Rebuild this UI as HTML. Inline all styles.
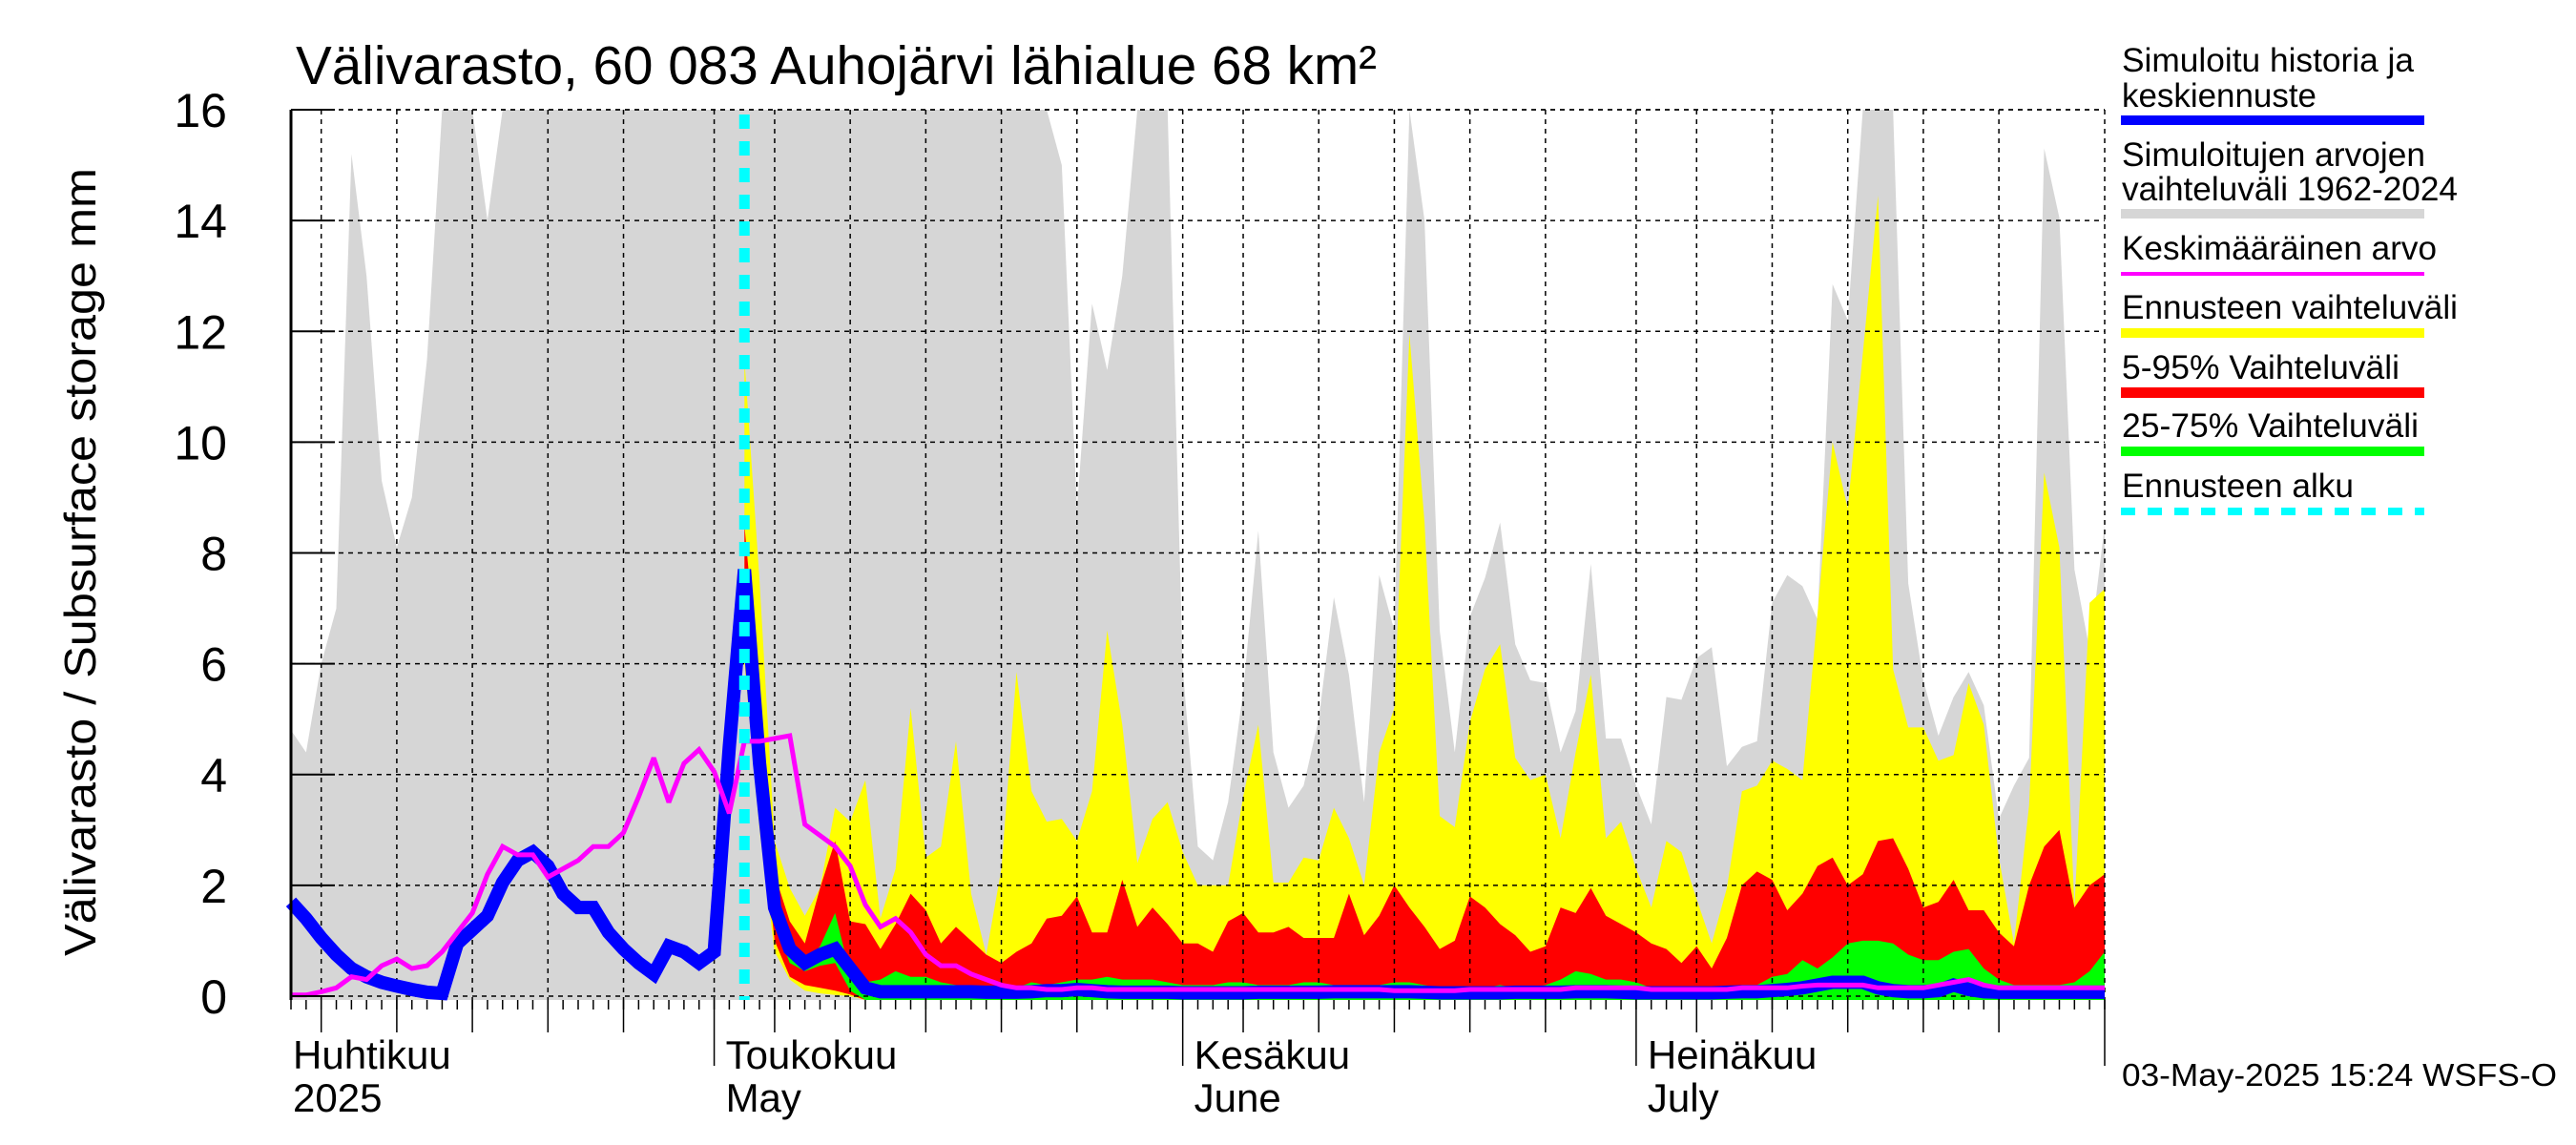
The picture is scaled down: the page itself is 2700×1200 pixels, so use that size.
<!DOCTYPE html>
<html><head><meta charset="utf-8"><style>
html,body{margin:0;padding:0;background:#fff;}
svg{display:block;font-family:"Liberation Sans",sans-serif;}
</style></head><body>
<svg id="chart" width="2700" height="1200" viewBox="0 0 2700 1200" xmlns="http://www.w3.org/2000/svg">
<rect x="0" y="0" width="2700" height="1200" fill="#fff"/>
<g id="plot"></g>
<g id="axes"></g>
<text x="310" y="88" font-size="57" textLength="1133" lengthAdjust="spacingAndGlyphs">Välivarasto, 60 083 Auhojärvi lähialue 68 km²</text>
<text transform="translate(100,589) rotate(-90)" text-anchor="middle" font-size="46" textLength="826" lengthAdjust="spacingAndGlyphs">Välivarasto / Subsurface storage  mm</text>
<text x="2224" y="1138" font-size="33" textLength="456" lengthAdjust="spacingAndGlyphs">03-May-2025 15:24 WSFS-O</text>
<g font-size="35">
 <g>
  <text x="2224" y="75" textLength="306" lengthAdjust="spacingAndGlyphs">Simuloitu historia ja</text><text x="2224" y="112" textLength="204" lengthAdjust="spacingAndGlyphs">keskiennuste</text>
  <rect x="2223" y="121" width="318" height="10" fill="#0000ff"/></g>
 <g>
  <text x="2224" y="174" textLength="318" lengthAdjust="spacingAndGlyphs">Simuloitujen arvojen</text><text x="2224" y="210" textLength="352" lengthAdjust="spacingAndGlyphs">vaihteluväli 1962-2024</text>
  <rect x="2223" y="219" width="318" height="10" fill="#d6d6d6"/></g>
 <g>
  <text x="2224" y="272" textLength="330" lengthAdjust="spacingAndGlyphs">Keskimääräinen arvo</text>
  <rect x="2223" y="285" width="318" height="4" fill="#ff00ff"/></g>
 <g>
  <text x="2224" y="334" textLength="352" lengthAdjust="spacingAndGlyphs">Ennusteen vaihteluväli</text>
  <rect x="2223" y="344" width="318" height="10" fill="#ffff00"/></g>
 <g>
  <text x="2224" y="397" textLength="291" lengthAdjust="spacingAndGlyphs">5-95% Vaihteluväli</text>
  <rect x="2223" y="406" width="318" height="11" fill="#ff0000"/></g>
 <g>
  <text x="2224" y="458" textLength="311" lengthAdjust="spacingAndGlyphs">25-75% Vaihteluväli</text>
  <rect x="2223" y="468" width="318" height="10" fill="#00ff00"/></g>
 <g>
  <text x="2224" y="521" textLength="243" lengthAdjust="spacingAndGlyphs">Ennusteen alku</text>
  <line x1="2223" y1="536" x2="2541" y2="536" stroke="#00ffff" stroke-width="8" stroke-dasharray="15 13"/></g>
</g>
</svg>
<script>
// day index i = 0 -> 3 April 2025
const greyMax = [4.8,4.4,6,7,15.2,13,9.3,8.1,9,11.5,16,16,16,14,16,16,16,16,16,16,16,16,16,16,16,16,16,16,16,16,16,16,16,16,16,16,16,16,16,16,16,16,16,16,16,16,16,16,16,16,16,15,8.8,12.5,11.3,13,16,16,16,5.9,2.7,2.45,3.5,5.5,8.4,4.4,3.4,3.8,5.0,7.2,5.8,3.5,7.6,6.6,16,14,6.6,4.4,6.85,7.55,8.55,6.35,5.7,5.65,4.4,5.15,7.8,4.65,4.65,3.8,3.1,5.4,5.35,6.1,6.3,4.15,4.5,4.6,7.1,7.6,7.4,6.8,12.85,12.2,16,16,16,7.45,5.7,4.7,5.4,5.85,5.25,3.2,3.8,4.3,15.3,14.05,7.7,6.25,8.5];
const forecastStart = 30;
const yellowMax = [11.5,7.5,2.8,1.95,1.45,1.95,3.4,3.15,3.9,1.4,2.3,5.2,2.5,2.7,4.6,1.85,0.75,2.3,5.85,3.7,3.15,3.2,2.8,3.7,6.6,4.9,2.4,3.2,3.5,2.6,2.0,2.0,2.0,3.6,4.9,2.05,2.05,2.5,2.45,3.4,2.85,2.0,4.4,5.2,11.95,8.55,3.25,3.05,4.95,5.9,6.35,4.3,3.9,4.0,2.85,4.4,5.8,2.85,3.15,2.3,1.6,2.8,2.6,1.75,0.95,1.95,3.7,3.8,4.25,4.1,3.9,6.9,10.0,8.8,11.6,14.45,5.9,4.85,4.85,4.25,4.35,5.65,4.9,2.5,0.95,3.45,9.45,8.1,1.6,7.1,7.35];
const yellowMin = [6.0,3.0,0.8,0.3,0.1,0.05,0.02,0];
const red95 = [8.5,5.5,2.2,1.35,0.95,1.95,2.8,1.35,1.3,0.85,1.3,1.85,1.55,0.95,1.25,1.0,0.75,0.6,0.8,0.95,1.4,1.45,1.8,1.15,1.15,2.1,1.25,1.6,1.3,0.95,0.95,0.8,1.35,1.5,1.15,1.15,1.25,1.05,1.05,1.05,1.85,1.1,1.45,2.0,1.6,1.25,0.85,1.0,1.8,1.6,1.3,1.1,0.8,0.9,1.6,1.5,1.95,1.45,1.3,1.15,0.95,0.85,0.6,0.9,0.5,1.05,2.0,2.25,2.1,1.55,1.85,2.35,2.5,2.0,2.2,2.8,2.85,2.3,1.6,1.7,2.1,1.55,1.55,1.15,0.9,2.0,2.7,3.0,1.6,2.0,2.2];
const red5 = [7.0,3.5,1.0,0.35,0.2,0.15,0.1,0.03];
const green75 = [7.5,4.5,1.5,0.8,0.6,0.9,1.5,0.4,0.25,0.3,0.45,0.35,0.35,0.25,0.2,0.15,0.15,0.15,0.15,0.25,0.2,0.25,0.3,0.3,0.35,0.3,0.3,0.3,0.25,0.2,0.2,0.2,0.25,0.25,0.2,0.2,0.2,0.25,0.25,0.2,0.2,0.2,0.2,0.25,0.25,0.2,0.15,0.15,0.15,0.15,0.2,0.15,0.15,0.2,0.3,0.45,0.4,0.3,0.3,0.25,0.15,0.1,0.1,0.1,0.1,0.1,0.2,0.2,0.35,0.4,0.65,0.5,0.7,0.95,1.0,1.0,0.95,0.75,0.65,0.65,0.8,0.85,0.5,0.3,0.2,0.2,0.2,0.2,0.25,0.45,0.8];
const green25 = [7.2,4.0,1.3,0.6,0.45,0.55,0.6,0.1];
const blueSeries = [1.7,1.4,1.05,0.75,0.5,0.35,0.25,0.18,0.12,0.07,0.05,0.95,1.2,1.45,2.05,2.45,2.6,2.35,1.85,1.6,1.6,1.15,0.85,0.6,0.4,0.9,0.8,0.6,0.8,4.5,7.7,4.2,1.6,0.85,0.6,0.75,0.85,0.5,0.15,0.08,0.08,0.08,0.08,0.08,0.08,0.08,0.07,0.07,0.07,0.08,0.1,0.1,0.12,0.1,0.08,0.07,0.07,0.07,0.07,0.06,0.06,0.06,0.06,0.06,0.07,0.07,0.07,0.07,0.07,0.08,0.08,0.08,0.08,0.08,0.08,0.07,0.06,0.06,0.06,0.06,0.06,0.07,0.07,0.07,0.07,0.08,0.08,0.08,0.07,0.06,0.06,0.06,0.06,0.06,0.06,0.07,0.08,0.08,0.1,0.12,0.15,0.2,0.25,0.25,0.25,0.15,0.1,0.08,0.08,0.1,0.2,0.12,0.08,0.07,0.07,0.07,0.07,0.07,0.07,0.07,0.07];
const meanSeries = [0.02,0.02,0.08,0.15,0.35,0.3,0.55,0.67,0.5,0.55,0.8,1.15,1.5,2.2,2.7,2.55,2.55,2.15,2.3,2.45,2.7,2.7,2.95,3.6,4.3,3.5,4.2,4.45,4.05,3.3,4.6,4.6,4.65,4.7,3.1,2.9,2.7,2.35,1.65,1.25,1.4,1.15,0.75,0.55,0.55,0.4,0.3,0.2,0.15,0.15,0.12,0.12,0.15,0.15,0.12,0.12,0.12,0.12,0.12,0.12,0.12,0.12,0.12,0.12,0.12,0.12,0.12,0.12,0.12,0.12,0.12,0.12,0.12,0.1,0.1,0.1,0.1,0.1,0.12,0.12,0.12,0.12,0.12,0.12,0.12,0.15,0.15,0.15,0.15,0.15,0.12,0.12,0.12,0.12,0.12,0.12,0.15,0.15,0.15,0.15,0.18,0.2,0.2,0.2,0.2,0.15,0.15,0.15,0.15,0.2,0.25,0.3,0.2,0.15,0.15,0.15,0.15,0.15,0.15,0.15,0.15];
const yTicks = [0,2,4,6,8,10,12,14,16];
const monthLabels = [["Huhtikuu","2025"],["Toukokuu","May"],["Kesäkuu","June"],["Heinäkuu","July"]];
const monthStartDay = [-2,28,59,89,120];

const NS="http://www.w3.org/2000/svg";
const X0=305, X1=2206, DAYS=120, YZ=1044, YT=115, YB=1048;
function xs(i){return X0+(X1-X0)*i/DAYS;}
function ys(v){return YZ-(YZ-YT)*Math.min(v,16)/16;}
function mk(tag,attrs,parent){const e=document.createElementNS(NS,tag);for(const k in attrs)e.setAttribute(k,attrs[k]);parent.appendChild(e);return e;}
const plot=document.getElementById('plot'), axes=document.getElementById('axes');

function band(upper,lower,start,color,name){
  let d='';
  upper.forEach((v,k)=>{d+=(k?' L':'M')+xs(start+k).toFixed(1)+','+ys(v).toFixed(1);});
  for(let k=upper.length-1;k>=0;k--){
    const lv=k<lower.length?lower[k]:null;
    const y=lv===null?YB:ys(lv);
    d+=' L'+xs(start+k).toFixed(1)+','+y.toFixed(1);
  }
  d+=' Z';
  const p=mk('path',{d:d,fill:color},plot);
  
  
}
band(greyMax,[],0,'#d6d6d6','range-1962-2024-band');
band(yellowMax,yellowMin,forecastStart,'#ffff00','forecast-range-band');
band(red95,red5,forecastStart,'#ff0000','band-5-95');
band(green75,green25,forecastStart,'#00ff00','band-25-75');

yTicks.forEach(t=>{
  const y=ys(t);
  const g=mk('line',{x1:X0,x2:X1,y1:y,y2:y,stroke:'#000','stroke-width':1.5,'stroke-dasharray':'5 5'},plot);
  
  
  const tk=mk('line',{x1:X0,x2:X0+46,y1:y,y2:y,stroke:'#000','stroke-width':2},axes);
  
  
  const lb=mk('text',{x:238,y:y+18,'text-anchor':'end','font-size':50},axes);
  lb.textContent=t;
  
  
});
const gridDays=[];
for(let m=0;m<4;m++){[5,10,15,20,25].forEach(dm=>gridDays.push(monthStartDay[m]+dm-1));}
gridDays.forEach(i=>{
  if(i<0||i>DAYS)return;
  const x=xs(i);
  const g=mk('line',{x1:x,x2:x,y1:YT,y2:YB,stroke:'#000','stroke-width':1.5,'stroke-dasharray':'5 5'},plot);
  
  
  const t=mk('line',{x1:x,x2:x,y1:YB,y2:1082,stroke:'#000','stroke-width':1.5},axes);
  
  
});
monthStartDay.forEach(i=>{
  if(i<0)return;
  const x=xs(i);
  const g=mk('line',{x1:x,x2:x,y1:YT,y2:YB,stroke:'#000','stroke-width':1.5,'stroke-dasharray':'5 5'},plot);
  
  
  const t=mk('line',{x1:x,x2:x,y1:YB,y2:1117,stroke:'#000','stroke-width':1.5},axes);
  
  
});
for(let i=0;i<=DAYS;i++){
  const t=mk('line',{x1:xs(i),x2:xs(i),y1:YB,y2:1058,stroke:'#000','stroke-width':1.5},axes);
  
  
}
mk('line',{x1:X0,x2:X1,y1:YT,y2:YT,stroke:'#000','stroke-width':1.5,'stroke-dasharray':'5 5'},plot);
monthLabels.forEach((lab,m)=>{
  const x=m===0?X0+2:xs(monthStartDay[m])+12;
  const t1=mk('text',{x:x,y:1120,'font-size':42},axes);
  t1.textContent=lab[0];
  
  
  const t2=mk('text',{x:x,y:1165,'font-size':42},axes);
  t2.textContent=lab[1];
  
  
});

function line(arr,color,w,name){
  const pts=arr.map((v,k)=>xs(k).toFixed(1)+','+ys(v).toFixed(1)).join(' ');
  const p=mk('polyline',{points:pts,fill:'none',stroke:color,'stroke-width':w,'stroke-linejoin':'miter','stroke-miterlimit':2},plot);
  
  
}
line(blueSeries,'#0000ff',14,'history-median-line');
line(meanSeries,'#ff00ff',5,'mean-line');
const fx=xs(forecastStart);
const c=mk('line',{x1:fx,x2:fx,y1:YT+5,y2:YB,stroke:'#00ffff','stroke-width':11,'stroke-dasharray':'15 13'},plot);


const ax=mk('line',{x1:X0,x2:X0,y1:YT,y2:YB,stroke:'#000','stroke-width':3},axes);


</script>
</body></html>
